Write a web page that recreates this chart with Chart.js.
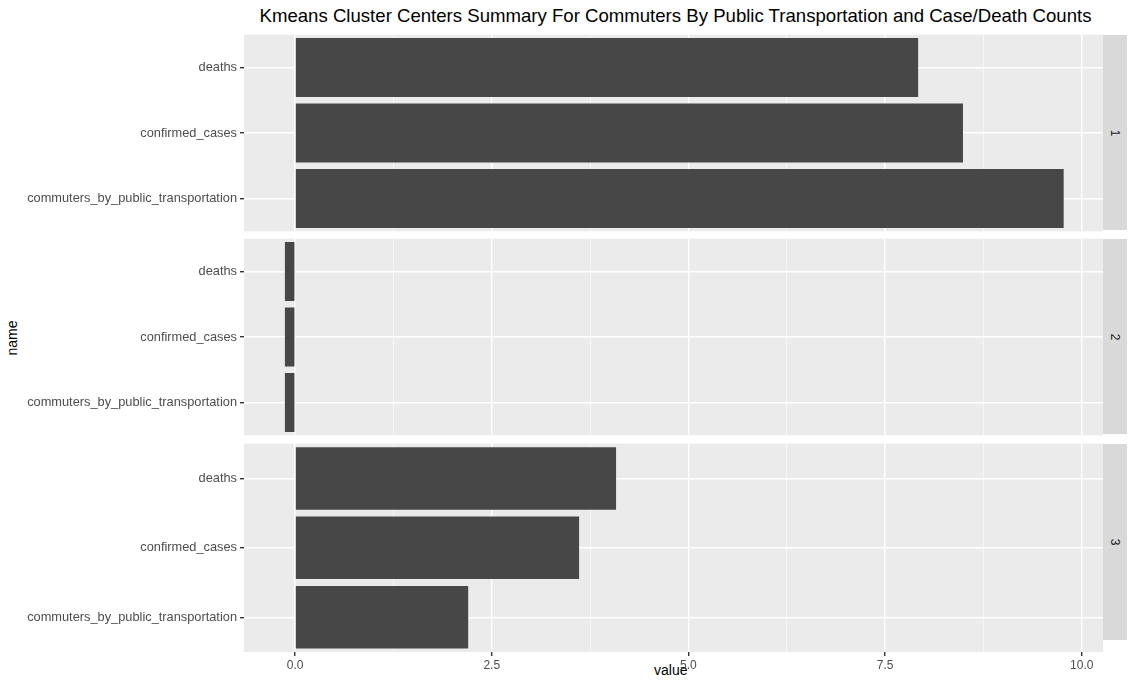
<!DOCTYPE html>
<html>
<head>
<meta charset="utf-8">
<script src="https://cdn.jsdelivr.net/npm/chart.js@4"></script>
<style>
  body { margin: 0; background: #fff; font-family: "Liberation Sans", Arial, sans-serif; }
  #wrap { position: relative; width: 1136px; height: 687px; overflow: hidden; }
  .panel { position: absolute; left: 0; width: 1103px; }
  .strip { position: absolute; left: 1103px; width: 24px; background: #d9d9d9; color: #1a1a1a; font-size: 12px; }
  .strip span { position: absolute; left: 50%; top: 50%; transform: translate(-50%, -50%) rotate(90deg); }
  .txt { position: absolute; color: #000; }
</style>
</head>
<body>
<div id="wrap">
  <div class="txt" style="left:0;width:1351px;top:5px;text-align:center;font-size:18.6px;">Kmeans Cluster Centers Summary For Commuters By Public Transportation and Case/Death Counts</div>
  <div class="txt" style="left:-6px;top:330px;font-size:14px;transform:rotate(-90deg);">name</div>
  <div class="txt" style="left:654px;top:662px;font-size:14px;">value</div>
</div>
<script>
// categories, top to bottom within each panel
const names = ["deaths", "confirmed_cases", "commuters_by_public_transportation"];
const clusters = ["1", "2", "3"];
// cluster center values per panel, same order as names
const cluster1 = [7.92, 8.49, 9.77];
const cluster2 = [-0.13, -0.13, -0.13];
const cluster3 = [4.08, 3.61, 2.20];
const xTicks = [0, 2.5, 5, 7.5, 10];
const xMinor = [1.25, 3.75, 6.25, 8.75];

const panels = [
  { data: cluster1, top: 35, h: 195, axis: false },
  { data: cluster2, top: 239, h: 195, axis: false },
  { data: cluster3, top: 444, h: 196, axis: true }
];

const bgPlugin = {
  id: "bg",
  beforeDraw(chart) {
    const a = chart.chartArea, c = chart.ctx;
    c.save();
    c.fillStyle = "#ebebeb";
    c.fillRect(a.left, a.top, a.right - a.left, a.bottom - a.top);
    c.restore();
  }
};

const wrap = document.getElementById("wrap");
panels.forEach((p, i) => {
  const div = document.createElement("div");
  div.className = "panel";
  // chart.js insets the plot ~11px top and bottom; compensate
  div.style.top = (p.top - 11) + "px";
  div.style.height = (p.h + 23 + (p.axis ? 25 : 0)) + "px";
  const cv = document.createElement("canvas");
  div.appendChild(cv);
  wrap.appendChild(div);

  const strip = document.createElement("div");
  strip.className = "strip";
  strip.style.top = p.top + "px";
  strip.style.height = p.h + "px";
  strip.innerHTML = "<span>" + clusters[i] + "</span>";
  wrap.appendChild(strip);

  new Chart(cv, {
    type: "bar",
    data: {
      labels: names,
      datasets: [{ data: p.data, backgroundColor: "#474747", categoryPercentage: 0.9, barPercentage: 1 }]
    },
    options: {
      indexAxis: "y",
      responsive: true,
      maintainAspectRatio: false,
      animation: false,
      layout: { padding: 0 },
      plugins: { legend: { display: false }, tooltip: { enabled: false } },
      scales: {
        x: {
          min: -0.65,
          max: 10.27,
          afterBuildTicks(s) { s.ticks = xTicks.concat(xMinor).sort((a, b) => a - b).map(v => ({ value: v })); },
          afterFit(s) { s.height = p.axis ? 25 : 0; },
          border: { display: false },
          grid: {
            color: "#ffffff",
            lineWidth: ctx => xTicks.includes(ctx.tick.value) ? 1.4 : 0.6,
            drawTicks: p.axis,
            tickLength: 4,
            tickColor: ctx => xTicks.includes(ctx.tick.value) ? "#333333" : "rgba(0,0,0,0)"
          },
          ticks: {
            display: p.axis,
            autoSkip: false,
            maxRotation: 0,
            color: "#4d4d4d",
            font: { family: "Liberation Sans", size: 12 },
            padding: 2,
            callback: v => xTicks.includes(v) ? v.toFixed(1) : ""
          }
        },
        y: {
          afterFit(s) { s.width = 244; },
          border: { display: false },
          grid: { color: "#ffffff", lineWidth: 1.4, offset: false, tickLength: 4, tickColor: "#333333" },
          ticks: { color: "#4d4d4d", font: { family: "Liberation Sans", size: 12.8 }, padding: 3 }
        }
      }
    },
    plugins: [bgPlugin]
  });
});
</script>
</body>
</html>
